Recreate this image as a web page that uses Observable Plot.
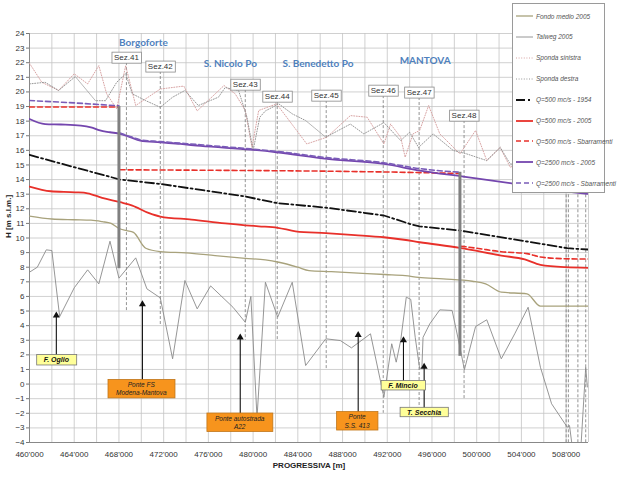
<!DOCTYPE html>
<html><head><meta charset="utf-8">
<script src="https://cdn.jsdelivr.net/npm/d3@7"></script>
<script src="https://cdn.jsdelivr.net/npm/@observablehq/plot@0.6"></script>
<style>
body{margin:0;background:#fff;font-family:"Liberation Sans",Arial,sans-serif}
#wrap{position:relative;width:618px;height:478px;overflow:hidden}
#legend{position:absolute;left:512px;top:3px;width:93px;height:190px;background:#fff;border:1px solid #9a9a9a;box-sizing:border-box}
#legend .row{position:absolute;left:3px;height:10px;display:flex;align-items:center;white-space:nowrap}
#legend .row span{font-size:6.5px;font-style:italic;color:#555;margin-left:3px}
</style>
</head><body><div id="wrap"></div>
<script>
// ---------------- DATA ----------------
const fondoMedio2005 = [[460000,11.5],[462000,11.3],[464000,11.25],[465500,11.22],[466500,11.12],[467300,11.0],[468000,10.65],[468700,10.5],[469300,10.38],[470400,9.3],[471700,9.07],[474000,8.98],[476600,8.8],[479300,8.61],[481100,8.5],[482300,8.34],[484000,8.0],[485000,7.77],[487000,7.7],[489400,7.6],[491800,7.5],[493600,7.43],[494800,7.3],[497000,7.2],[499600,7.04],[500800,6.86],[502200,6.29],[504500,6.18],[505700,5.33],[510000,5.33]];
const talweg2005 = [[460000,7.66],[460700,8.0],[461500,9.19],[462000,9.14],[462700,4.62],[464000,6.59],[465200,7.82],[466200,6.86],[467200,9.78],[468000,7.25],[469500,8.64],[470500,6.52],[471700,5.9],[472800,1.73],[473900,7.09],[475000,5.15],[476200,6.72],[478200,5.26],[479300,4.23],[479800,6.0],[480350,-2.3],[481100,6.97],[482200,4.58],[483500,6.97],[484700,1.27],[486500,3.1],[487800,2.98],[488800,2.48],[490500,3.44],[491700,-0.9],[492400,2.76],[492800,1.5],[493200,2.98],[493700,5.95],[494100,5.8],[494500,3.2],[494900,1.05],[495100,1.15],[495200,3.2],[495800,4.12],[496700,5.08],[497800,5.04],[498500,2.53],[498900,0.98],[499900,3.94],[500900,4.4],[502200,1.73],[503400,3.44],[504600,5.26],[505700,1.15],[506700,-1.35],[508100,-2.95],[508300,-2.84],[508600,-4.6],[509300,-4.6],[509750,1.15],[509900,-0.2]];
const spondaSinistra = [[460000,21.96],[461100,20.66],[462600,20.1],[464000,21.24],[465200,20.55],[466200,21.8],[466900,19.87],[467800,18.84],[468600,21.8],[469500,19.07],[471700,20.2],[473800,20.4],[475000,18.7],[477400,20.44],[478400,19.87],[479300,18.73],[479900,16.2],[480500,18.73],[482100,19.18],[483000,18.27],[484800,16.44],[486600,16.9],[488700,18.38],[490200,18.27],[491700,16.44],[492300,17.8],[493200,16.9],[493600,15.53],[494300,17.13],[494900,17.36],[495700,19.07],[496700,17.13],[498500,15.76],[499900,17.36],[500900,15.3],[502100,16.2],[503000,14.84],[504000,15.2]];
const spondaDestra = [[460000,20.55],[461400,20.66],[462600,20.1],[464100,21.05],[465900,19.4],[466800,19.4],[467800,20.66],[468600,21.24],[469200,19.87],[470400,19.4],[471700,18.95],[472800,19.64],[473900,20.1],[475100,19.07],[476900,19.64],[477500,20.3],[478700,20.1],[479450,18.27],[480000,15.99],[480600,18.27],[481100,18.7],[482300,19.18],[483500,18.5],[484700,18.04],[486500,16.9],[488700,17.8],[489900,17.13],[491700,17.9],[493200,16.67],[494000,17.24],[494800,16.2],[496100,17.13],[497900,15.99],[499100,15.76],[500900,15.3],[502100,16.2],[503000,15.07],[504000,15.0]];
const q500_1954 = [[460000,15.69],[464000,14.85],[468100,14.0],[471700,13.7],[479300,12.84],[482200,12.38],[486500,12.08],[491700,11.54],[494200,10.92],[494900,10.8],[498500,10.51],[504500,9.76],[508100,9.3],[510000,9.21]];
const q500_2005 = [[460000,13.52],[461900,13.2],[464100,13.13],[465200,13.06],[466500,12.75],[468100,12.45],[469200,12.22],[470700,11.7],[471700,11.47],[474500,11.26],[477500,11.0],[479300,10.87],[480500,10.8],[482200,10.7],[483800,10.46],[486500,10.33],[489100,10.2],[491700,10.05],[493500,9.88],[494900,9.71],[498500,9.33],[502200,8.8],[504300,8.53],[505700,8.16],[507900,8.0],[510000,7.96]];
const q500_sbarr_a = [[460000,18.97],[468000,18.97]];
const q500_sbarr_b = [[468100,14.67],[473000,14.65],[480000,14.62],[486000,14.58],[492000,14.52],[498500,14.42]];
const q500_sbarr_c = [[498600,9.44],[500000,9.3],[502200,9.06],[504500,8.93],[505700,8.7],[507900,8.58],[510000,8.56]];
const q2500_2005 = [[460000,18.15],[461400,17.8],[462800,17.77],[464600,17.7],[465500,17.58],[466300,17.36],[467200,17.24],[468100,17.13],[469000,16.9],[469900,16.67],[471700,16.55],[473500,16.44],[475300,16.3],[479750,16.05],[482100,15.87],[486600,15.42],[491700,15.07],[494900,14.62],[498800,14.2],[503000,13.75],[506000,13.4],[509900,13.02]];
const q2500_sbarr_a = [[460000,19.41],[464000,19.25],[468000,19.05]];
const q2500_sbarr_b = [[468100,17.18],[469000,16.95],[469900,16.72],[471700,16.6],[473500,16.49],[475300,16.38],[479750,16.1],[482100,15.93],[486600,15.5],[491700,15.15],[494900,14.75],[498500,14.5]];

const sezNames  = ["Sez.41","Sez.42","Sez.43","Sez.44","Sez.45","Sez.46","Sez.47","Sez.48"];
const sezX      = [468670, 471700, 479300, 482160, 486540, 491640, 494850, 498870];
const sezLabelY = [22.35, 21.74, 20.5, 19.68, 19.75, 20.09, 19.96, 18.38];
const sezBottom = [5.0, 4.0, 3.0, 3.0, 1.0, -2.0, -1.5, -1.0];
const extraSezX = [508000, 508200, 509050, 509750];

const damX = [468000, 498500];
const damTop = [19.0, 14.5];
const damBottom = [7.9, 1.9];

const towns  = ["Borgoforte","S. Nicolo Po","S. Benedetto Po","MANTOVA"];
const townX  = [470190, 477960, 485800, 495390];
const townY  = [23.38, 21.94, 21.94, 22.15];

const yellowLabels = ["F. Oglio","F. Mincio","T. Secchia"];
const yellowX = [462400, 493400, 495300];
const yellowY = [1.68, -0.1, -1.93];
const yellowArrowX = [462400, 493450, 495300];
const yellowArrowTip = [4.83, 3.14, 1.32];

const orangeLabels = ["Ponte FS\nModena-Mantova","Ponte autostrada\nA22","Ponte\nS.S. 413"];
const orangeX = [470000, 478800, 489300];
const orangeY = [-0.3, -2.6, -2.5];
const orangeArrowX = [470100, 478850, 489400];
const orangeArrowTip = [5.6, 3.32, 3.5];

const xTicks = d3.range(460000, 510001, 4000);
const xGrid = d3.range(460000, 510001, 2000);
const yTicks = d3.range(-4, 25, 1);

const legendLabels = ["Fondo medio 2005","Talweg 2005","Sponda sinistra","Sponda destra","Q=500 mc/s - 1954","Q=500 mc/s - 2005","Q=500 mc/s - Sbarramenti","Q=2500 mc/s - 2005","Q=2500 mc/s - Sbarramenti"];

// ---------------- STYLES ----------------
const C = {
  fondo: {stroke:"#a8a27c", strokeWidth:1.3},
  talweg: {stroke:"#8a8a8a", strokeWidth:0.9},
  sin: {stroke:"#d49a9a", strokeWidth:0.9, strokeDasharray:"1,1.6"},
  des: {stroke:"#8c8c8c", strokeWidth:0.9, strokeDasharray:"1,1.6"},
  y1954: {stroke:"#111", strokeWidth:1.8, strokeDasharray:"9,3,2,3"},
  r2005: {stroke:"#e8302a", strokeWidth:1.8},
  rSb: {stroke:"#e8302a", strokeWidth:1.6, strokeDasharray:"5,3"},
  p2005: {stroke:"#7446ae", strokeWidth:1.8},
  pSb: {stroke:"#7a5cb8", strokeWidth:1.6, strokeDasharray:"5,3"}
};
const legendStyles = [C.fondo, C.talweg, C.sin, C.des, C.y1954, C.r2005, C.rSb, C.p2005, C.pSb];

const fmt = d => d3.format(",")(d).replace(/,/g, "'");
const pts = a => a.map(([x, y]) => ({x, y}));
const line = (a, s, curve = "linear") => Plot.line(pts(a), {x: "x", y: "y", curve, clip: true, ...s});

const sez = sezNames.map((n, i) => ({n, x: sezX[i], ly: sezLabelY[i], b: sezBottom[i]}));
const dams = damX.map((x, i) => ({x, t: damTop[i], b: damBottom[i]}));
const townData = towns.map((t, i) => ({t, x: townX[i], y: townY[i]}));
const yel = yellowLabels.map((t, i) => ({t, x: yellowX[i], y: yellowY[i], ax: yellowArrowX[i], tip: yellowArrowTip[i]}));
const ora = orangeLabels.map((t, i) => ({t, x: orangeX[i], y: orangeY[i], ax: orangeArrowX[i], tip: orangeArrowTip[i]}));
const arrows = [...yel, ...ora];

const chart = Plot.plot({
  width: 618, height: 478,
  marginLeft: 29, marginRight: 30, marginTop: 33, marginBottom: 36,
  style: {fontFamily: "'Liberation Sans', Arial, sans-serif", fontSize: "8px", background: "white", color: "#333"},
  x: {domain: [460000, 510000]},
  y: {domain: [-4, 24]},
  marks: [
    Plot.gridX(xGrid, {stroke: "#c4c4c4", strokeOpacity: 1, strokeWidth: 0.8}),
    Plot.gridY(yTicks, {stroke: "#c4c4c4", strokeOpacity: 1, strokeWidth: 0.8}),
    Plot.axisY(yTicks, {tickSize: 3, tickPadding: 2, label: null, fontSize: 8, stroke: "#777"}),
    Plot.axisX(xTicks, {tickSize: 0, tickPadding: 9, tickFormat: fmt, label: null, fontSize: 8}),
    Plot.ruleX([460000], {stroke: "#888"}),
    Plot.ruleY([-4], {stroke: "#888"}),
    Plot.text(["H [m s.l.m.]"], {frameAnchor: "left", dx: -21, rotate: -90, fontWeight: "bold", fontSize: 8, fill: "#222"}),
    Plot.text(["PROGRESSIVA [m]"], {frameAnchor: "bottom", dy: 25, fontWeight: "bold", fontSize: 8, fill: "#222"}),
    Plot.ruleX(sez, {x: "x", y1: "ly", y2: "b", stroke: "#666", strokeWidth: 0.7, strokeDasharray: "3,2"}),
    Plot.ruleX(extraSezX, {y1: 13.3, y2: -4, stroke: "#666", strokeWidth: 0.7, strokeDasharray: "3,2"}),
    line(fondoMedio2005, C.fondo, "monotone-x"),
    line(talweg2005, C.talweg),
    line(spondaSinistra, C.sin),
    line(spondaDestra, C.des),
    line(q500_1954, C.y1954),
    line(q500_2005, C.r2005, "monotone-x"),
    line(q500_sbarr_a, C.rSb), line(q500_sbarr_b, C.rSb), line(q500_sbarr_c, C.rSb, "monotone-x"),
    line(q2500_2005, C.p2005, "monotone-x"),
    line(q2500_sbarr_a, C.pSb), line(q2500_sbarr_b, C.pSb, "monotone-x"),
    Plot.ruleX(dams, {x: "x", y1: "t", y2: "b", stroke: "#808080", strokeWidth: 3}),
    Plot.text(sez, {x: "x", y: "ly", text: "n", fontSize: 8, fill: "#333"}),
    Plot.text(townData, {x: "x", y: "y", text: "t", fontSize: 10, fontWeight: "bold", fill: "#4f81bd", fontFamily: "Lato, 'Liberation Sans', sans-serif"}),
    Plot.link(arrows, {x1: "ax", x2: "ax", y1: "y", y2: "tip", stroke: "#111", strokeWidth: 1.1}),
    Plot.dot(arrows, {x: "ax", y: "tip", symbol: "triangle", r: 2.6, fill: "#111", dy: 2}),
    Plot.text(yel, {x: "x", y: "y", text: "t", fontSize: 7, fontWeight: "bold", fontStyle: "italic", fill: "#111"}),
    Plot.text(ora, {x: "x", y: "y", text: "t", fontSize: 6.5, fontStyle: "italic", fill: "#222", lineHeight: 1.3})
  ]
});

const wrap = document.getElementById("wrap");
wrap.appendChild(chart);

function boxify(labels, o) {
  const wanted = new Set(labels.map(s => s.replace(/\n/g, "")));
  chart.querySelectorAll("text").forEach(t => {
    if (!wanted.has(t.textContent)) return;
    const b = t.getBBox();
    const r = document.createElementNS("http://www.w3.org/2000/svg", "rect");
    const w = b.width + 2 * o.px, h = b.height + 2 * o.py;
    r.setAttribute("x", b.x + b.width / 2 - w / 2);
    r.setAttribute("y", b.y + b.height / 2 - h / 2);
    r.setAttribute("width", w);
    r.setAttribute("height", h);
    r.setAttribute("fill", o.fill);
    r.setAttribute("stroke", o.stroke);
    r.setAttribute("stroke-width", o.sw || 0.8);
    const tr = t.getAttribute("transform");
    if (tr) r.setAttribute("transform", tr);
    t.parentNode.insertBefore(r, t);
  });
}
boxify(sezNames, {px: 2, py: 1, fill: "#fff", stroke: "#8a8a8a"});
boxify(yellowLabels, {px: 7, py: 1.2, fill: "#ffff99", stroke: "#777"});
boxify(orangeLabels, {px: 8, py: 1.5, fill: "#f7941d", stroke: "#c0761a"});

// legend
const leg = document.createElement("div");
leg.id = "legend";
legendLabels.forEach((lab, i) => {
  const s = legendStyles[i];
  const row = document.createElement("div");
  row.className = "row";
  row.style.top = (7 + i * 20.9) + "px";
  row.innerHTML = `<svg width="17" height="6"><line x1="0" y1="3" x2="17" y2="3" stroke="${s.stroke}" stroke-width="${s.strokeWidth}" ${s.strokeDasharray ? `stroke-dasharray="${s.strokeDasharray}"` : ""}/></svg><span>${lab}</span>`;
  leg.appendChild(row);
});
wrap.appendChild(leg);
</script>
</body></html>
